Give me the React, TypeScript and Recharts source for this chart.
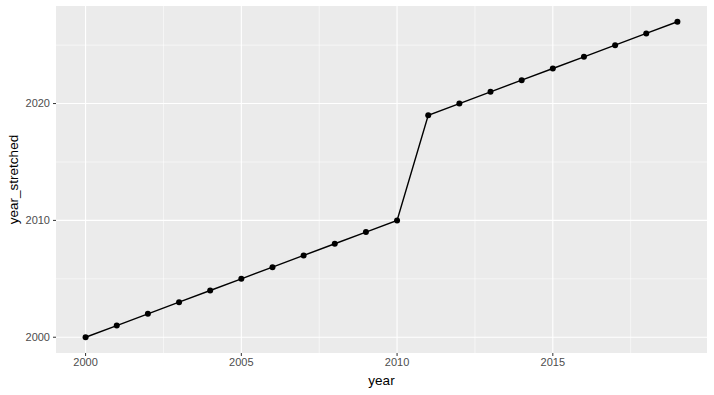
import React from 'react';
import { LineChart, Line, XAxis, YAxis, CartesianGrid, Label } from 'recharts';

const years = [2000, 2001, 2002, 2003, 2004, 2005, 2006, 2007, 2008, 2009, 2010, 2011, 2012, 2013, 2014, 2015, 2016, 2017, 2018, 2019];
const yearStretched = [2000, 2001, 2002, 2003, 2004, 2005, 2006, 2007, 2008, 2009, 2010, 2019, 2020, 2021, 2022, 2023, 2024, 2025, 2026, 2027];
const xTicks = [2000, 2005, 2010, 2015];
const yTicks = [2000, 2010, 2020];
const xMinor = [2002.5, 2007.5, 2012.5, 2017.5];
const yMinor = [2005, 2015, 2025];

const data = years.map((y, i) => ({ year: y, year_stretched: yearStretched[i] }));

const font = '"Liberation Sans", Arial, sans-serif';

export default function App() {
  return (
    <div style={{ position: 'fixed', left: 0, top: 0, width: 714, height: 395, background: '#fff' }}>
      <LineChart width={714} height={395} data={data} margin={{ top: 6, right: 7, bottom: 0, left: 0 }}>
        <CartesianGrid fill="#EBEBEB" stroke="#FFFFFF" strokeWidth={0.55}
          horizontalValues={yMinor} verticalValues={xMinor} />
        <CartesianGrid fill="none" stroke="#FFFFFF" strokeWidth={1.1}
          horizontalValues={yTicks} verticalValues={xTicks} />
        <XAxis dataKey="year" type="number" domain={[1999.05, 2019.95]} ticks={xTicks}
          allowDataOverflow height={42} axisLine={false} tickSize={3} tickMargin={2}
          tickLine={{ stroke: '#333333', strokeWidth: 1 }}
          tick={{ fill: '#4D4D4D', stroke: 'none', fontSize: 11, fontFamily: font }}>
          <Label value="year" position="insideBottom" offset={10}
            style={{ fill: '#000', fontSize: 13.5, fontFamily: font }} />
        </XAxis>
        <YAxis type="number" domain={[1998.65, 2028.35]} ticks={yTicks} allowDataOverflow
          width={56} axisLine={false} tickSize={3} tickMargin={3}
          tickLine={{ stroke: '#333333', strokeWidth: 1 }}
          tick={{ fill: '#4D4D4D', stroke: 'none', fontSize: 11, fontFamily: font }}>
          <Label value="year_stretched" angle={-90} position="insideLeft" offset={13}
            style={{ fill: '#000', fontSize: 13.5, fontFamily: font, textAnchor: 'middle' }} />
        </YAxis>
        <Line dataKey="year_stretched" stroke="#000" strokeWidth={1.4} isAnimationActive={false}
          dot={{ r: 3, fill: '#000', stroke: '#000', strokeWidth: 0 }} activeDot={false} />
      </LineChart>
    </div>
  );
}
